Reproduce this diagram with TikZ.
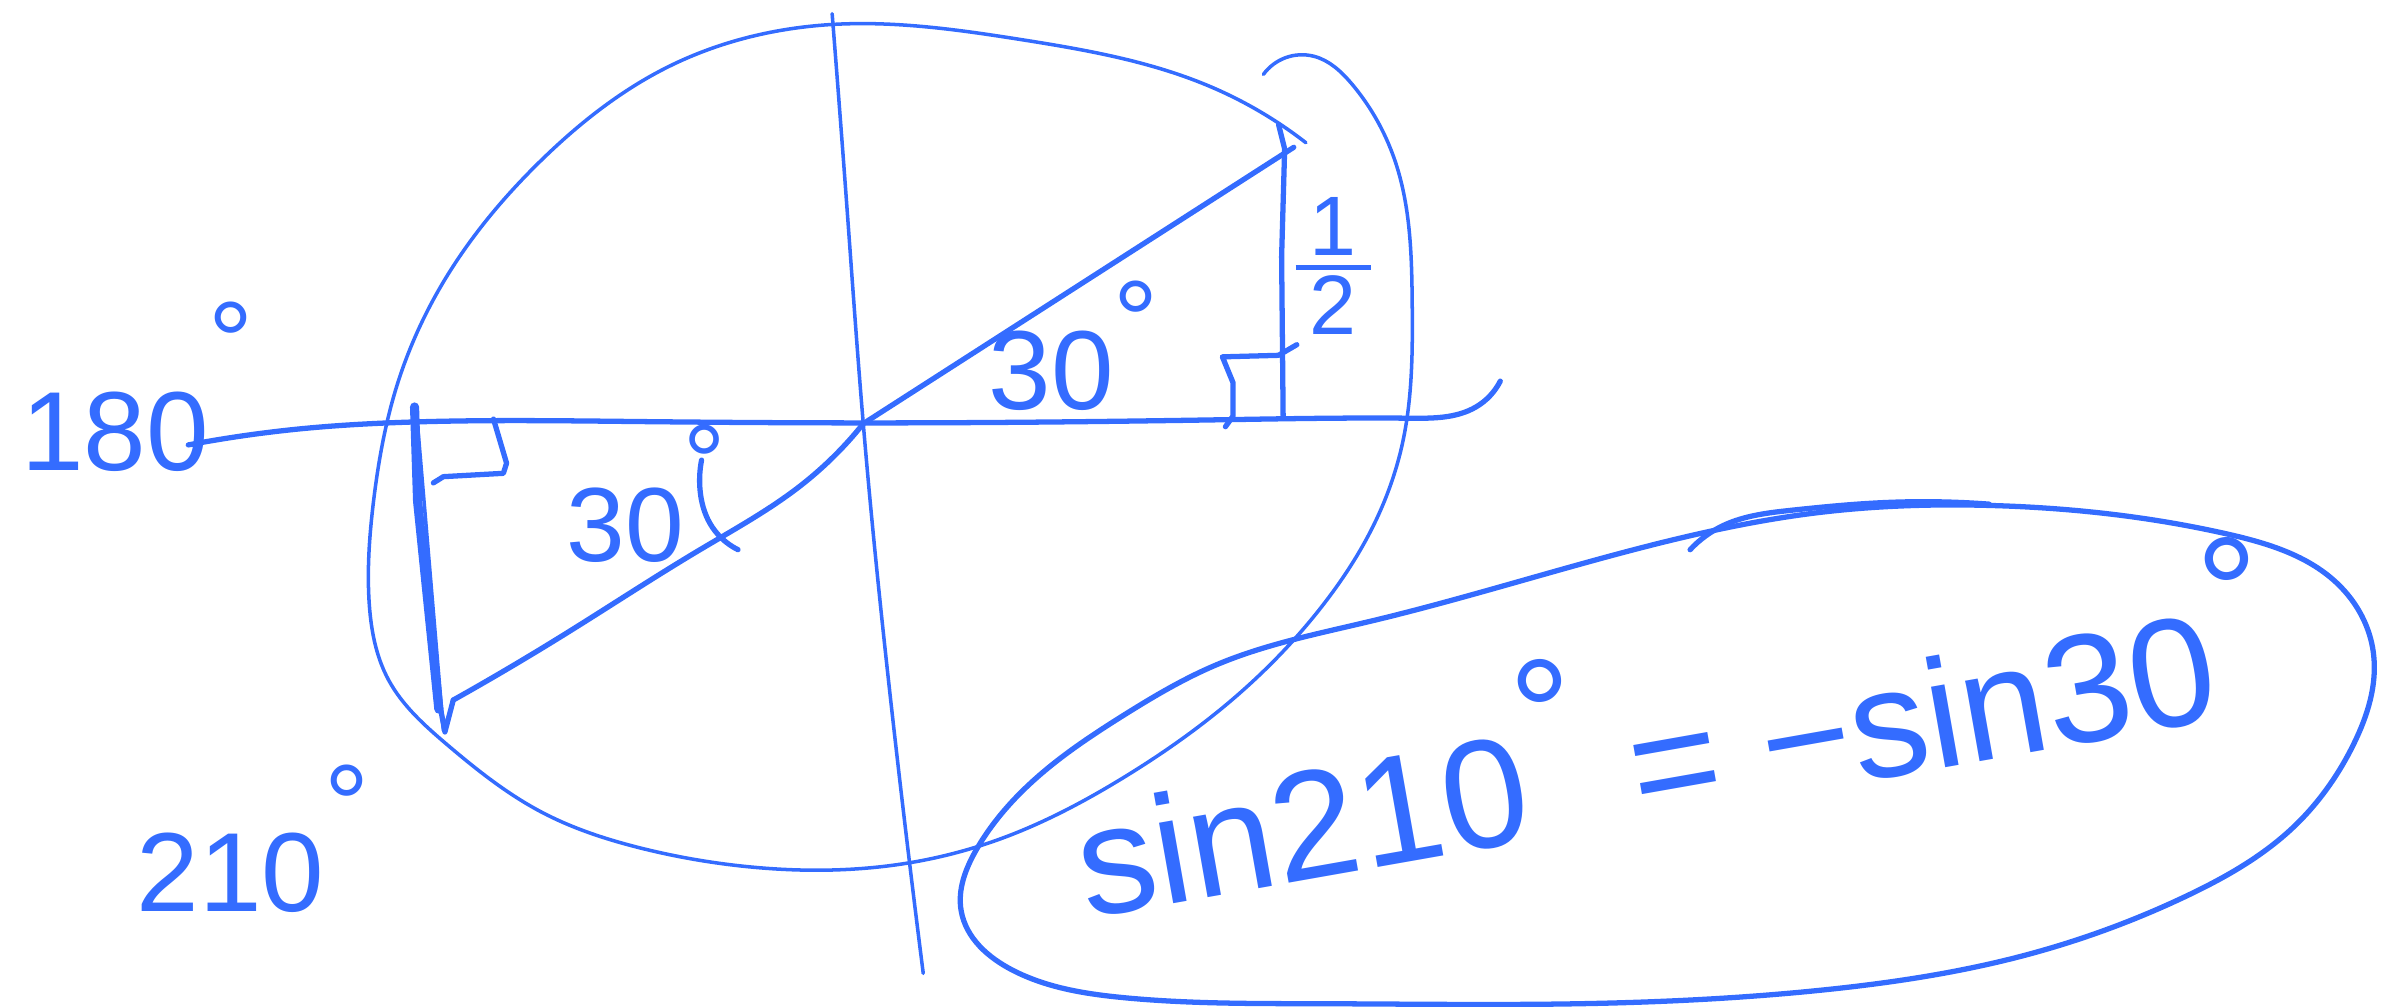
\documentclass[tikz,border=0pt]{standalone}
\usepackage{fontspec}
\setmainfont{Liberation Sans}
\usetikzlibrary{hobby}
\definecolor{hb}{RGB}{52,108,255}
\begin{document}
\begin{tikzpicture}[x=0.015185cm,y=-0.015185cm,line cap=round,line join=round,
  lnthin/.style={draw=hb,line width=1.0pt},
  lnmed/.style={draw=hb,line width=1.5pt},
  lnbold/.style={draw=hb,line width=2.6pt},
  lbl/.style={text=hb,inner sep=0pt,outer sep=0pt}]
\useasboundingbox (0,0) rectangle (1568,663);
% unit circle (hand drawn)
\draw[lnthin,use Hobby shortcut] (860,94) .. (797,57) .. (672,26) .. (550,16) .. (440,44) .. (357,105) .. (298,176) .. (262,252) .. (246,330) .. (243,395) .. (256,448) .. (294,490) .. (357,535) .. (420,558) .. (495,571) .. (600,568) .. (660,552) .. (740,512) .. (810,462) .. (870,400) .. (905,345) .. (924,290) .. (930,200) .. (920,110) .. (890,55) .. (865,37) .. (832,49);
% horizontal axis
\draw[lnmed,use Hobby shortcut] (124,293) .. (202,282) .. (269,278) .. (420,277.6) .. (569,278.5) .. (800,276.5) .. (928,275.4) .. (972,268) .. (988,251);
% vertical axis
\draw[lnthin,use Hobby shortcut] (548,9) .. (558,140) .. (568.5,279) .. (588,474) .. (608,641);
% diagonal through origin
\draw[lnmed,use Hobby shortcut] (298.5,461) .. (373,417) .. (461,362) .. (527,320) .. (568.5,279);
\draw[lnmed] (568.5,279) -- (852,97);
\draw[lnmed] (290,466) -- (293,482) -- (298.5,461);
% left vertical (thick)
\draw[lnbold] (273,268) -- (275,330) -- (289,467);
\draw[lnthin] (274,268) -- (292,481);
% right angle marks
\draw[lnmed] (285.4,318) -- (292,313.9) -- (331.5,311.7) -- (333.6,305) -- (325,276);
\draw[lnmed] (807,281) -- (812,274) -- (812,252) -- (805,235) -- (842,234) -- (854,227);
% right vertical
\draw[lnmed] (842,82) -- (846,98) -- (844,169) -- (845,274);
% angle arc lower
\draw[lnmed,use Hobby shortcut] (462,303) .. (461,322.6) .. (467.5,344.6) .. (486,362);
% ellipse around the result
\draw[lnmed,use Hobby shortcut,closed=true] (643,559.5) .. (679.5,515) .. (740,471) .. (800.6,438) .. (903,409) .. (1042.6,371) .. (1194,338) .. (1315,333) .. (1466,351.5) .. (1540,385) .. (1563,430) .. (1550,490) .. (1510,545) .. (1440,590) .. (1330,630) .. (1200,652) .. (1040,661) .. (870,661) .. (740,657) .. (667,639) .. (633,600);
\draw[lnmed,use Hobby shortcut] (1113,362) .. (1135,346) .. (1180,336) .. (1240,331) .. (1310,332);
% labels
\node[lbl,anchor=base west,font=\fontsize{32}{32}\selectfont] (t180) at (14,310) {180\raisebox{0.8em}{°}};
\node[lbl,anchor=base west,font=\fontsize{32}{32}\selectfont] (t210) at (90,600) {210\raisebox{0.6em}{°}};
\node[lbl,anchor=base west,font=\fontsize{30}{30}\selectfont] (tlow) at (373,370) {30\raisebox{0.6em}{°}};
\node[lbl,anchor=base west,font=\fontsize{32}{32}\selectfont] (tup) at (651,270) {30\raisebox{0.45em}{°}};
\node[lbl,font=\fontsize{24}{24}\selectfont] (thalf) at (878,175) {${\mbox{\,1\,}\above 1.4pt\mbox{\,2\,}}$};
\node[lbl,anchor=base west,rotate=10,font=\fontsize{44}{44}\selectfont] (tsin) at (716,605) {sin210\raisebox{0.45em}{°} = −sin30\raisebox{0.45em}{°}};
\end{tikzpicture}
\end{document}
